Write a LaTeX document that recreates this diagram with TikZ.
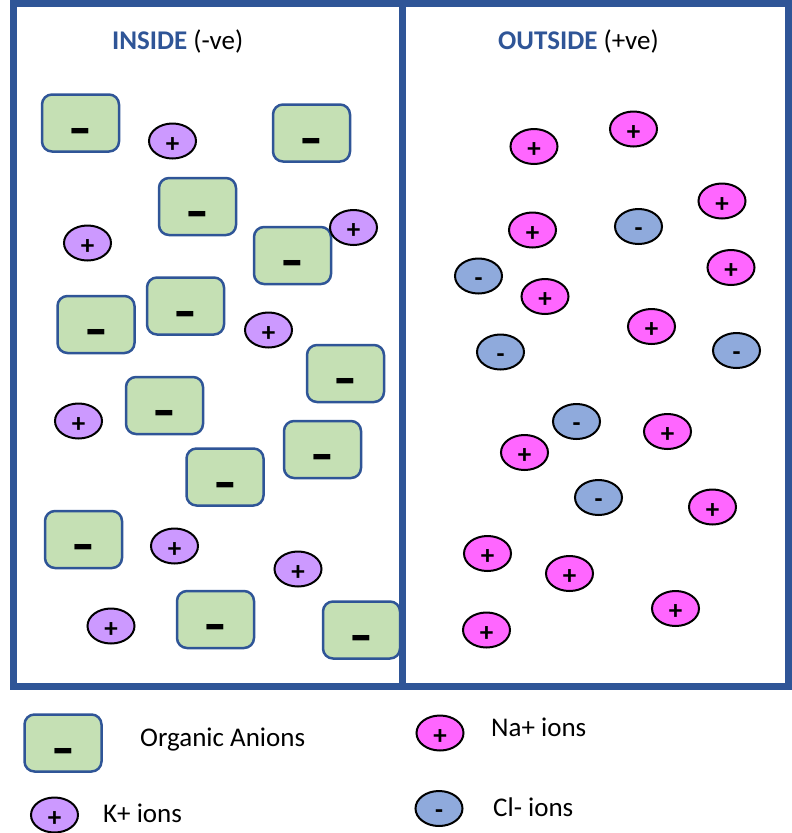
\documentclass[tikz,border=0pt]{standalone}
\usepackage{fontspec}
\setmainfont{Carlito}
\usetikzlibrary{shapes.geometric}

\definecolor{frameblue}{HTML}{2F5597}
\definecolor{anionfill}{HTML}{C5E0B4}
\definecolor{kfill}{HTML}{CC99FF}
\definecolor{nafill}{HTML}{FF66FF}
\definecolor{clfill}{HTML}{8FAADC}

% charge signs, set with zero height so the node centre sits on the baseline
\newcommand\anionsign{\raisebox{-25pt}[0pt][0pt]{\fontsize{34}{34}\selectfont\bfseries\scalebox{1.4}[1.8]{–}}}
\newcommand\possign{\raisebox{-11pt}[0pt][0pt]{\fontsize{27}{27}\selectfont\bfseries +}}
\newcommand\negsign{\raisebox{-10pt}[0pt][0pt]{\fontsize{26}{26}\selectfont\bfseries -}}

\tikzset{
  frame/.style={draw=frameblue, line width=7pt},
  anion/.style={draw=frameblue, fill=anionfill, line width=2.5pt, rounded corners=10pt,
    rectangle, minimum width=77pt, minimum height=57pt, inner sep=0pt},
  ion/.style={ellipse, draw=black, line width=2pt, minimum width=47pt, minimum height=35pt, inner sep=0pt},
  kion/.style={ion, fill=kfill},
  naion/.style={ion, fill=nafill},
  clion/.style={ion, fill=clfill},
  lbl/.style={anchor=base west, inner sep=0pt, font=\fontsize{27}{30}\selectfont},
}

\begin{document}
\begin{tikzpicture}[x=1pt, y=-1pt]
\useasboundingbox (0,0) rectangle (792,833);

% the two compartments
\draw[frame] (13.5,3.5) rectangle (402,686.5);
\draw[frame] (402,3.5) rectangle (788.5,686.5);

\node[lbl] (tin) at (112,49) {\textbf{\color{frameblue}INSIDE} (-ve)};
\node[lbl] (tout) at (498,49) {\textbf{\color{frameblue}OUTSIDE} (+ve)};

% organic anions inside
\node[anion] (a1) at (80.5,123) {\anionsign};
\node[anion] (a2) at (311.5,133) {\anionsign};
\node[anion] (a3) at (197.5,206.5) {\anionsign};
\node[anion] (a4) at (292.5,255.5) {\anionsign};
\node[anion] (a5) at (96,324.5) {\anionsign};
\node[anion] (a6) at (185.5,306) {\anionsign};
\node[anion] (a7) at (345.5,373.5) {\anionsign};
\node[anion] (a8) at (164.5,405.5) {\anionsign};
\node[anion] (a9) at (322.5,449.5) {\anionsign};
\node[anion] (a10) at (225,477) {\anionsign};
\node[anion] (a11) at (83.5,539.5) {\anionsign};
\node[anion] (a12) at (215.5,619.5) {\anionsign};
\node[anion] (a13) at (361.5,630) {\anionsign};

% potassium ions inside
\node[kion] (k1) at (172.5,141) {\possign};
\node[kion] (k2) at (87.5,243) {\possign};
\node[kion] (k3) at (353.5,227.5) {\possign};
\node[kion] (k4) at (268.5,330) {\possign};
\node[kion] (k5) at (78.5,421) {\possign};
\node[kion] (k6) at (174.5,546) {\possign};
\node[kion] (k7) at (298,569) {\possign};
\node[kion] (k8) at (111,626) {\possign};

% sodium ions outside
\node[naion] (n1) at (534,146.5) {\possign};
\node[naion] (n2) at (633.5,129) {\possign};
\node[naion] (n3) at (722,201) {\possign};
\node[naion] (n4) at (532.5,230) {\possign};
\node[naion] (n5) at (731,267.5) {\possign};
\node[naion] (n6) at (545,296.5) {\possign};
\node[naion] (n7) at (651.5,326.5) {\possign};
\node[naion] (n8) at (667.5,431.5) {\possign};
\node[naion] (n9) at (524.5,452.5) {\possign};
\node[naion] (n10) at (712.5,507) {\possign};
\node[naion] (n11) at (487.5,553.5) {\possign};
\node[naion] (n12) at (569.5,573.5) {\possign};
\node[naion] (n13) at (675.5,608.5) {\possign};
\node[naion] (n14) at (486.5,630) {\possign};

% chloride ions outside
\node[clion] (c1) at (638.5,226.5) {\negsign};
\node[clion] (c2) at (478.5,276) {\negsign};
\node[clion] (c3) at (500.5,352) {\negsign};
\node[clion] (c4) at (736.5,350.5) {\negsign};
\node[clion] (c5) at (576.5,421.5) {\negsign};
\node[clion] (c6) at (598.5,497.5) {\negsign};

% key
\node[anion] (la) at (63,743) {\anionsign};
\node[lbl] (lat) at (140,746) {Organic Anions};
\node[kion] (lk) at (54.5,815) {\possign};
\node[lbl] (lkt) at (103,822) {K+ ions};
\node[naion] (ln) at (440,733) {\possign};
\node[lbl] (lnt) at (491,736) {Na+ ions};
\node[clion] (lc) at (439,808.5) {\negsign};
\node[lbl] (lct) at (493,816) {Cl- ions};
\end{tikzpicture}
\end{document}
